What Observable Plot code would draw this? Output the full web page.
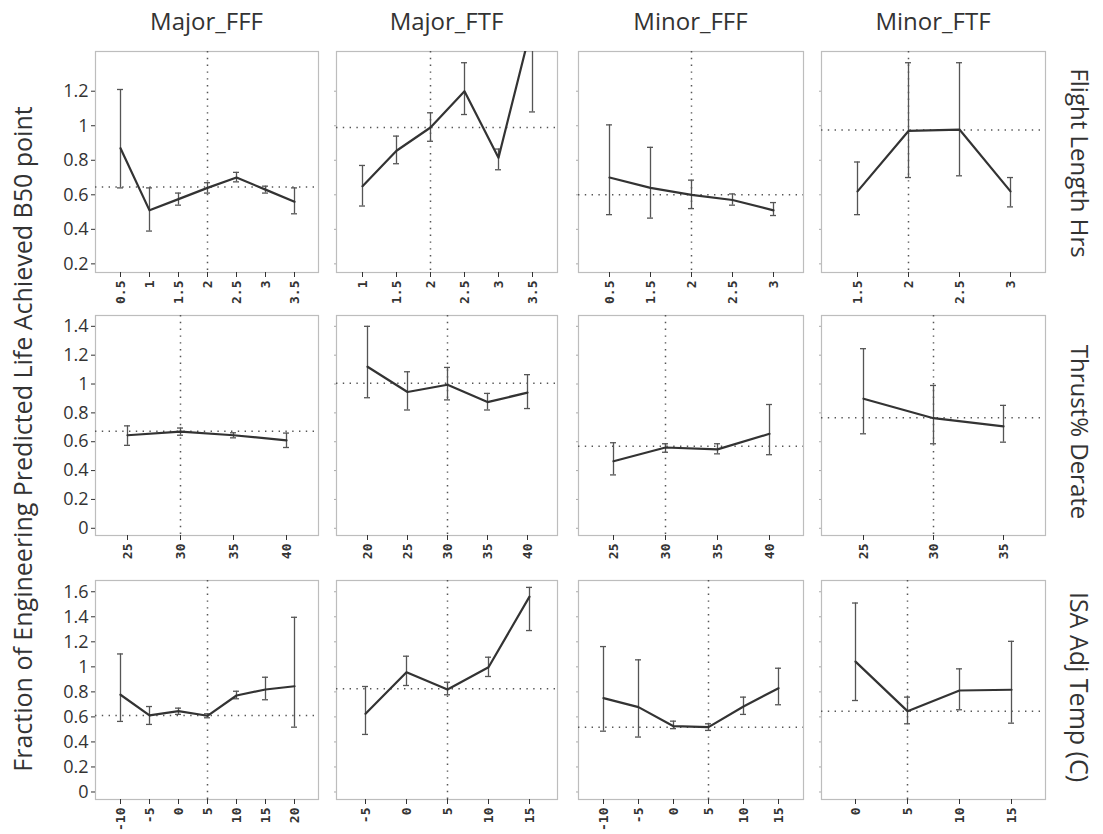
<!DOCTYPE html>
<html><head><meta charset="utf-8">
<script src="https://cdn.jsdelivr.net/npm/d3@7"></script>
<script src="https://cdn.jsdelivr.net/npm/@observablehq/plot@0.6"></script>
<style>
body{margin:0;background:#fff;}
#chart{position:relative;width:1103px;height:834px;font-family:"Open Sans",sans-serif;color:#333;overflow:hidden;}
.p{position:absolute;}
.lab{position:absolute;white-space:nowrap;transform-origin:center center;}
</style></head><body><div id="chart"></div>
<script>
// ---- text ----
const columns = ["Major_FFF", "Major_FTF", "Minor_FFF", "Minor_FTF"];
const factors = ["Flight Length Hrs", "Thrust% Derate", "ISA Adj Temp (C)"];
const yTitle = "Fraction of Engineering Predicted Life Achieved B50 point";

// ---- y ticks per row ----
const flightYTicks = [0.2, 0.4, 0.6, 0.8, 1, 1.2];
const thrustYTicks = [0, 0.2, 0.4, 0.6, 0.8, 1, 1.2, 1.4];
const isaYTicks = [0, 0.2, 0.4, 0.6, 0.8, 1, 1.2, 1.4, 1.6];

// ---- Row 1: Flight Length Hrs ----
const flMajorFFF_x = [0.5, 1, 1.5, 2, 2.5, 3, 3.5];
const flMajorFFF_mean = [0.87, 0.51, 0.575, 0.64, 0.70, 0.63, 0.56];
const flMajorFFF_lo = [0.64, 0.39, 0.54, 0.61, 0.675, 0.61, 0.49];
const flMajorFFF_hi = [1.21, 0.64, 0.61, 0.67, 0.73, 0.65, 0.64];
const flMajorFFF_ref = 0.645;

const flMajorFTF_x = [1, 1.5, 2, 2.5, 3, 3.5];
const flMajorFTF_mean = [0.65, 0.855, 0.99, 1.2, 0.815, 1.6];
const flMajorFTF_lo = [0.535, 0.78, 0.91, 1.065, 0.745, 1.08];
const flMajorFTF_hi = [0.77, 0.94, 1.075, 1.365, 0.865, 2.2];
const flMajorFTF_ref = 0.99;

const flMinorFFF_x = [0.5, 1.5, 2, 2.5, 3];
const flMinorFFF_mean = [0.70, 0.64, 0.60, 0.57, 0.51];
const flMinorFFF_lo = [0.485, 0.465, 0.52, 0.54, 0.48];
const flMinorFFF_hi = [1.005, 0.875, 0.685, 0.605, 0.555];
const flMinorFFF_ref = 0.60;

const flMinorFTF_x = [1.5, 2, 2.5, 3];
const flMinorFTF_mean = [0.62, 0.97, 0.978, 0.62];
const flMinorFTF_lo = [0.485, 0.70, 0.71, 0.53];
const flMinorFTF_hi = [0.79, 1.365, 1.365, 0.70];
const flMinorFTF_ref = 0.975;

// ---- Row 2: Thrust% Derate ----
const thMajorFFF_x = [25, 30, 35, 40];
const thMajorFFF_mean = [0.645, 0.67, 0.645, 0.61];
const thMajorFFF_lo = [0.575, 0.645, 0.627, 0.56];
const thMajorFFF_hi = [0.71, 0.695, 0.662, 0.66];
const thMajorFFF_ref = 0.672;

const thMajorFTF_x = [20, 25, 30, 35, 40];
const thMajorFTF_mean = [1.12, 0.945, 0.995, 0.875, 0.94];
const thMajorFTF_lo = [0.905, 0.82, 0.89, 0.82, 0.83];
const thMajorFTF_hi = [1.40, 1.085, 1.115, 0.935, 1.065];
const thMajorFTF_ref = 1.005;

const thMinorFFF_x = [25, 30, 35, 40];
const thMinorFFF_mean = [0.465, 0.56, 0.547, 0.655];
const thMinorFFF_lo = [0.37, 0.527, 0.516, 0.51];
const thMinorFFF_hi = [0.593, 0.586, 0.586, 0.858];
const thMinorFFF_ref = 0.569;

const thMinorFTF_x = [25, 30, 35];
const thMinorFTF_mean = [0.898, 0.763, 0.706];
const thMinorFTF_lo = [0.655, 0.586, 0.597];
const thMinorFTF_hi = [1.245, 0.99, 0.852];
const thMinorFTF_ref = 0.766;

// ---- Row 3: ISA Adj Temp (C) ----
const isMajorFFF_x = [-10, -5, 0, 5, 10, 15, 20];
const isMajorFFF_mean = [0.777, 0.612, 0.646, 0.609, 0.771, 0.819, 0.845];
const isMajorFFF_lo = [0.564, 0.54, 0.62, 0.593, 0.745, 0.737, 0.518];
const isMajorFFF_hi = [1.103, 0.683, 0.67, 0.625, 0.805, 0.917, 1.396];
const isMajorFFF_ref = 0.612;

const isMajorFTF_x = [-5, 0, 5, 10, 15];
const isMajorFTF_mean = [0.625, 0.957, 0.819, 0.997, 1.561];
const isMajorFTF_lo = [0.46, 0.851, 0.777, 0.923, 1.29];
const isMajorFTF_hi = [0.843, 1.085, 0.877, 1.077, 1.635];
const isMajorFTF_ref = 0.824;

const isMinorFFF_x = [-10, -5, 0, 5, 10, 15];
const isMinorFFF_mean = [0.75, 0.678, 0.526, 0.518, 0.683, 0.829];
const isMinorFFF_lo = [0.486, 0.439, 0.506, 0.492, 0.62, 0.697];
const isMinorFFF_hi = [1.162, 1.056, 0.566, 0.545, 0.758, 0.989];
const isMinorFFF_ref = 0.518;

const isMinorFTF_x = [0, 5, 10, 15];
const isMinorFTF_mean = [1.042, 0.646, 0.811, 0.817];
const isMinorFTF_lo = [0.731, 0.545, 0.657, 0.55];
const isMinorFTF_hi = [1.51, 0.758, 0.984, 1.204];
const isMinorFTF_ref = 0.646;

// reference (center) x per row
const rowCenters = [2, 30, 5];

// ---- layout ----
const colX = [[95, 318], [336, 557], [578, 803], [821, 1045]];
const rowY = [[51, 272], [315, 535], [580, 799]];
const yDomains = [[0.15, 1.43], [-0.05, 1.475], [-0.06, 1.69]];
const yTicksRows = [flightYTicks, thrustYTicks, isaYTicks];

const panels = [
  [0, 0, flMajorFFF_x, flMajorFFF_mean, flMajorFFF_lo, flMajorFFF_hi, flMajorFFF_ref, 0.74],
  [0, 1, flMajorFTF_x, flMajorFTF_mean, flMajorFTF_lo, flMajorFTF_hi, flMajorFTF_ref, 0.7],
  [0, 2, flMinorFFF_x, flMinorFFF_mean, flMinorFFF_lo, flMinorFFF_hi, flMinorFFF_ref, 0.68],
  [0, 3, flMinorFTF_x, flMinorFTF_mean, flMinorFTF_lo, flMinorFTF_hi, flMinorFTF_ref, 0.66],
  [1, 0, thMajorFFF_x, thMajorFFF_mean, thMajorFFF_lo, thMajorFFF_hi, thMajorFFF_ref, 0.6],
  [1, 1, thMajorFTF_x, thMajorFTF_mean, thMajorFTF_lo, thMajorFTF_hi, thMajorFTF_ref, 0.7],
  [1, 2, thMinorFFF_x, thMinorFFF_mean, thMinorFFF_lo, thMinorFFF_hi, thMinorFFF_ref, 0.66],
  [1, 3, thMinorFTF_x, thMinorFTF_mean, thMinorFTF_lo, thMinorFTF_hi, thMinorFTF_ref, 0.6],
  [2, 0, isMajorFFF_x, isMajorFFF_mean, isMajorFFF_lo, isMajorFFF_hi, isMajorFFF_ref, 0.74],
  [2, 1, isMajorFTF_x, isMajorFTF_mean, isMajorFTF_lo, isMajorFTF_hi, isMajorFTF_ref, 0.69],
  [2, 2, isMinorFFF_x, isMinorFFF_mean, isMinorFFF_lo, isMinorFFF_hi, isMinorFFF_ref, 0.7],
  [2, 3, isMinorFTF_x, isMinorFTF_mean, isMinorFTF_lo, isMinorFTF_hi, isMinorFTF_ref, 0.65]
];

const chart = document.getElementById("chart");
const dotted = {stroke: "#555", strokeWidth: 1.5, strokeDasharray: "1.4,5.4"};

for (const [r, c, xs, mean, lo, hi, ref, padding] of panels) {
  const data = xs.map((x, i) => ({x, m: mean[i], lo: lo[i], hi: hi[i]}));
  const [fl, fr] = colX[c];
  const [ft, fb] = rowY[r];
  const mL = c === 0 ? 52 : 8, mR = 6, mT = 6, mB = 48;
  const fig = Plot.plot({
    width: fr - fl + mL + mR,
    height: fb - ft + mT + mB,
    marginLeft: mL, marginRight: mR, marginTop: mT, marginBottom: mB,
    x: {type: "point", domain: xs, padding, label: null},
    y: {domain: yDomains[r], label: null},
    style: {background: "transparent", color: "#333", overflow: "visible"},
    marks: [
      Plot.frame({stroke: "#bdbdbd", strokeWidth: 1.2}),
      Plot.ruleY([ref], dotted),
      Plot.ruleX([rowCenters[r]], dotted),
      Plot.ruleX(data, {x: "x", y1: "lo", y2: "hi", stroke: "#555", strokeWidth: 1.3, clip: true}),
      Plot.ruleY(data, {y: "lo", x1: "x", x2: "x", insetLeft: -3, insetRight: -3, stroke: "#555", strokeWidth: 1.3, clip: true}),
      Plot.ruleY(data, {y: "hi", x1: "x", x2: "x", insetLeft: -3, insetRight: -3, stroke: "#555", strokeWidth: 1.3, clip: true}),
      Plot.line(data, {x: "x", y: "m", stroke: "#333", strokeWidth: 2.2, clip: true}),
      Plot.axisX({tickRotate: -90, tickSize: 5, tickPadding: 3, fontSize: 13, fontWeight: "bold",
        fontFamily: "DejaVu Sans Mono", tickFormat: d => String(d), label: null}),
      c === 0
        ? Plot.axisY({ticks: yTicksRows[r], tickSize: 4, tickPadding: 3, fontSize: 18,
            fontFamily: "Open Sans", tickFormat: d => String(d), label: null})
        : Plot.axisY({ticks: yTicksRows[r], tickSize: 2, tickFormat: () => "", label: null, stroke: "#aaa"})
    ]
  });
  const wrap = document.createElement("div");
  wrap.className = "p";
  wrap.style.left = (fl - mL) + "px";
  wrap.style.top = (ft - mT) + "px";
  wrap.appendChild(fig);
  chart.appendChild(wrap);
}

function label(text, cx, cy, rot, size) {
  const d = document.createElement("div");
  d.className = "lab";
  d.textContent = text;
  d.style.left = cx + "px";
  d.style.top = cy + "px";
  d.style.fontSize = size + "px";
  d.style.transform = `translate(-50%,-50%) rotate(${rot}deg)`;
  chart.appendChild(d);
}
columns.forEach((t, c) => label(t, (colX[c][0] + colX[c][1]) / 2, 20, 0, 24));
label(factors[0], 1080, 163, 90, 24);
label(factors[1], 1080, 432, 90, 24);
label(factors[2], 1080, 687, 90, 25);
label(yTitle, 22, 439, -90, 25);
</script></body></html>
